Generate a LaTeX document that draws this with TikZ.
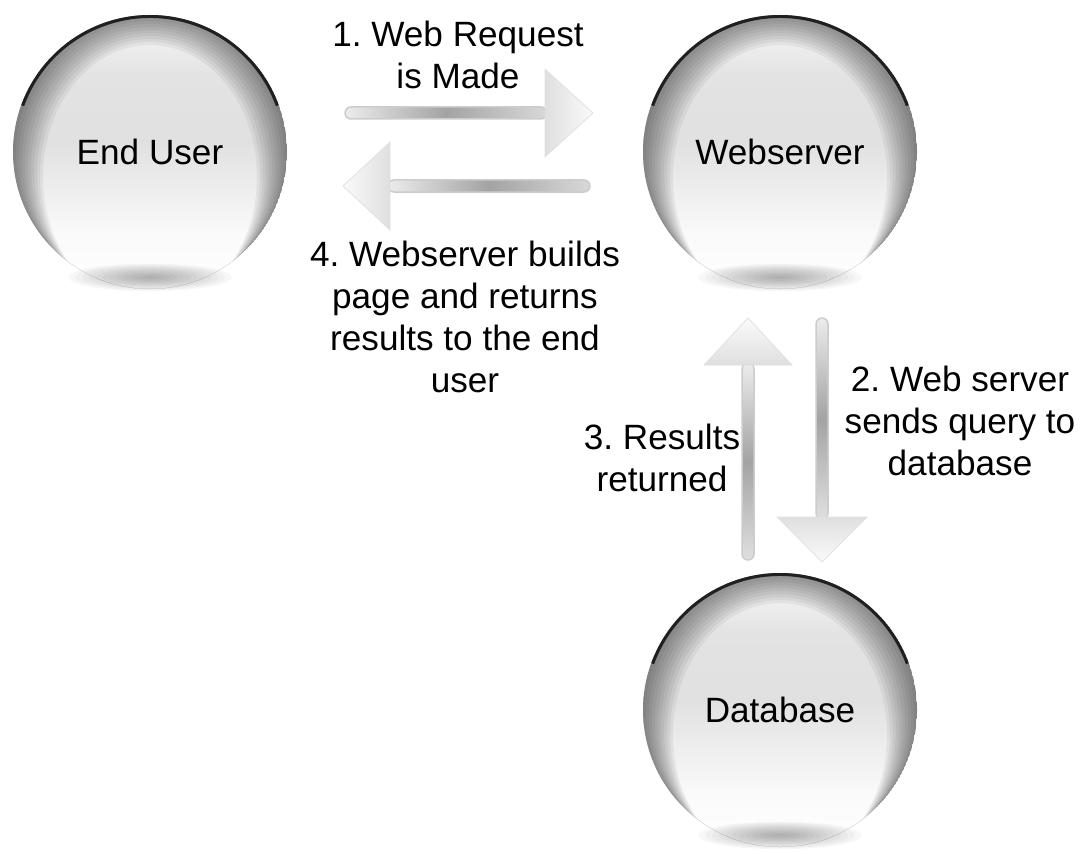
\documentclass[tikz,border=0pt]{standalone}
\usepackage{fontspec}
\setmainfont{Liberation Sans}
\usetikzlibrary{calc}

\newcommand\mainsize{\fontsize{20}{24}\selectfont}

% glass body, bottom (0bp) to top (100bp)
\pgfdeclareverticalshading{ballbody}{100bp}{color(0bp)=(white); color(25bp)=(white); color(35bp)=(gray!4); color(52bp)=(gray!24); color(64bp)=(gray!22); color(72bp)=(gray!10); color(100bp)=(gray!10)}

\tikzset{
  ball/.style={circle, minimum size=54.8mm, inner sep=0pt, font=\mainsize,
    path picture={
      \coordinate (pc) at (path picture bounding box.center);
      \shade[shading=ballbody] (path picture bounding box.south west) rectangle (path picture bounding box.north east);
      \foreach \k in {1,...,10}
        \fill[gray!20!black, opacity=0.06, even odd rule] (pc) circle (137) ($(pc)+(0,-2.5*\k)$) ellipse ({137-3*\k} and {137-0.5*\k});
      \draw[gray!25!black, line width=1.2mm] (pc) ++(160:137) arc (160:20:137);
    }},
  lbl/.style={align=center, font=\mainsize, inner sep=0pt},
  shaftH/.style={draw=gray!40, line width=0.3mm, left color=gray!15, right color=gray!30, middle color=gray!72, rounded corners=1.2mm},
  shaftV/.style={draw=gray!40, line width=0.3mm, top color=gray!15, bottom color=gray!25, middle color=gray!72, rounded corners=1.2mm},
  headR/.style={draw=gray!25, left color=gray!25, right color=gray!4},
  headL/.style={draw=gray!25, left color=gray!4, right color=gray!25},
  headU/.style={draw=gray!25, top color=gray!4, bottom color=gray!25},
  headD/.style={draw=gray!25, top color=gray!25, bottom color=gray!4},
}

\begin{document}
\frenchspacing
\begin{tikzpicture}[x=0.2mm, y=0.2mm]
    \useasboundingbox (0,0) rectangle (1083,852);

    \node[ball] (user) at (150,700) {End User};
    \node[ball] (web) at (780,700) {Webserver};
    \node[ball] (db) at (780,142) {Database};

    % soft shadows under the balls
    \foreach \b in {user,web,db}
      \foreach \s in {1,...,12}
        \fill[gray!60!black, opacity=0.045] ($(\b.south)+(0,12)$) ellipse ({6.8*\s} and {1.15*\s});

    % 1. request
    \coordinate (reqA) at (345,739);
    \coordinate (reqB) at (593,739);
    \shade[shaftH] ($(reqA)+(0,-6)$) rectangle ($(reqB)+(-46,6)$);
    \shade[headR] ($(reqB)+(-48,44)$) -- (reqB) -- ($(reqB)+(-48,-44)$) -- cycle;

    % 4. page back to the user
    \coordinate (pageA) at (590,666);
    \coordinate (pageB) at (343,666);
    \shade[shaftH] ($(pageB)+(45,-6)$) rectangle ($(pageA)+(0,6)$);
    \shade[headL] ($(pageB)+(47,44)$) -- (pageB) -- ($(pageB)+(47,-44)$) -- cycle;

    % 2. query
    \coordinate (qryA) at (822,534);
    \coordinate (qryB) at (822,290);
    \shade[shaftV] ($(qryA)+(-6,0)$) rectangle ($(qryB)+(6,43)$);
    \shade[headD] ($(qryB)+(-45,45)$) -- (qryB) -- ($(qryB)+(45,45)$) -- cycle;

    % 3. results
    \coordinate (retA) at (748,292);
    \coordinate (retB) at (748,534);
    \shade[shaftV] ($(retA)+(-6,0)$) rectangle ($(retB)+(6,-45)$);
    \shade[headU] ($(retB)+(-44,-47)$) -- (retB) -- ($(retB)+(44,-47)$) -- cycle;

    \node[lbl] (step1) at (458,797) {1. Web Request\\is Made};
    \node[lbl] (step4) at (465,535) {4. Webserver builds\\page and returns\\results to the end\\user};
    \node[lbl] (step3) at (662,394) {3. Results\\returned};
    \node[lbl] (step2) at (960,431) {2. Web server\\sends query to\\database};
\end{tikzpicture}
\end{document}
